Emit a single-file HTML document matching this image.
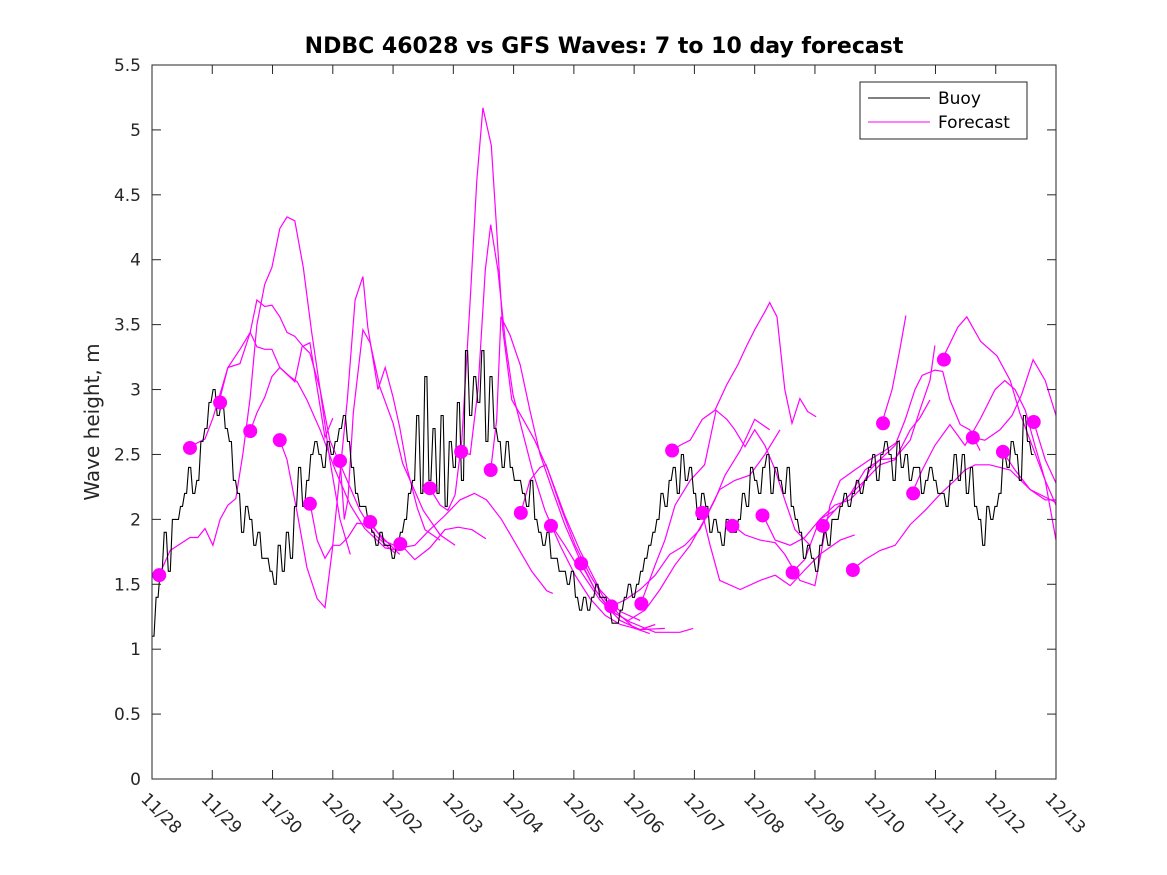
<!DOCTYPE html>
<html><head><meta charset="utf-8"><style>
html,body{margin:0;padding:0;background:#fff;}
svg{display:block;font-family:"DejaVu Sans","Liberation Sans",sans-serif;}
</style></head><body>
<svg id="chart" width="1167" height="875" viewBox="0 0 1167 875" xmlns="http://www.w3.org/2000/svg">
<rect x="0" y="0" width="1167" height="875" fill="#fff"/>
<text x="604" y="53" text-anchor="middle" font-size="22" font-weight="bold" fill="#000">NDBC 46028 vs GFS Waves: 7 to 10 day forecast</text>
<text transform="translate(99,422) rotate(-90)" text-anchor="middle" font-size="20" fill="#262626">Wave height, m</text>
<g id="plot"></g>
<g id="axes"></g>
<g>
<rect x="860" y="82" width="167" height="57" fill="#fff" stroke="#262626" stroke-width="1"/>
<line x1="868" y1="98" x2="930" y2="98" stroke="#000" stroke-width="1"/>
<text x="938" y="104" font-size="17" fill="#000">Buoy</text>
<line x1="868" y1="122" x2="930" y2="122" stroke="#f0f" stroke-width="1"/>
<text x="938" y="128" font-size="17" fill="#000">Forecast</text>
</g>
</svg>
<script>
const xTickLabels = ["11/28","11/29","11/30","12/01","12/02","12/03","12/04","12/05","12/06","12/07","12/08","12/09","12/10","12/11","12/12","12/13"];
const yTickValues = [0,0.5,1,1.5,2,2.5,3,3.5,4,4.5,5,5.5];
const buoyStepDays = 1/14.8;
const buoyValues = [1.1,1.4,1.6,1.9,1.6,2.0,2.0,2.1,2.2,2.4,2.2,2.3,2.6,2.7,2.9,3.0,2.8,2.9,2.7,2.6,2.3,2.2,1.9,2.1,2.0,1.8,1.9,1.7,1.7,1.6,1.5,1.8,1.6,1.9,1.7,2.1,2.4,2.1,2.3,2.5,2.6,2.5,2.4,2.6,2.5,2.6,2.7,2.8,2.6,2.4,2.2,2.1,2.1,2.0,1.9,1.8,1.9,1.8,1.8,1.7,1.8,1.9,2.0,2.2,2.3,2.8,2.2,3.1,2.3,2.7,2.2,2.8,2.1,2.6,2.4,2.9,2.3,3.3,2.8,3.1,2.9,3.3,2.6,3.1,2.7,2.6,2.4,2.6,2.4,2.3,2.3,2.2,2.1,2.3,2.0,1.9,1.8,1.9,1.7,1.7,1.6,1.6,1.5,1.6,1.4,1.3,1.4,1.3,1.4,1.5,1.4,1.4,1.3,1.2,1.2,1.3,1.4,1.5,1.4,1.5,1.6,1.7,1.8,1.9,2.0,2.2,2.1,2.3,2.4,2.2,2.5,2.3,2.4,2.2,2.0,2.2,2.1,1.9,2.0,1.9,1.8,2.0,1.9,1.9,2.0,2.2,2.1,2.4,2.3,2.2,2.4,2.5,2.2,2.4,2.3,2.2,2.4,2.1,2.0,1.9,1.7,1.8,1.7,1.6,1.8,1.9,1.8,2.0,2.0,2.1,2.2,2.1,2.2,2.3,2.2,2.3,2.4,2.5,2.3,2.5,2.6,2.5,2.3,2.6,2.4,2.5,2.3,2.4,2.4,2.2,2.3,2.4,2.3,2.2,2.2,2.1,2.3,2.5,2.3,2.5,2.2,2.4,2.1,2.0,1.8,2.1,2.0,2.1,2.2,2.5,2.4,2.6,2.5,2.3,2.8,2.6,2.5];
const dotDays = [0.12,0.63,1.13,1.63,2.12,2.62,3.12,3.62,4.12,4.61,5.13,5.62,6.12,6.62,7.12,7.62,8.12,8.63,9.13,9.63,10.13,10.63,11.13,11.63,12.13,12.63,13.14,13.62,14.12,14.63];
const dotValues = [1.57,2.55,2.9,2.68,2.61,2.12,2.45,1.98,1.81,2.24,2.52,2.38,2.05,1.95,1.66,1.33,1.35,2.53,2.05,1.95,2.03,1.59,1.95,1.61,2.74,2.2,3.23,2.63,2.52,2.75];
const fc01 = [[0.12,1.57],[0.30,1.76],[0.63,1.86],[0.76,1.86],[0.88,1.93],[1.01,1.80],[1.13,2.00],[1.26,2.11],[1.39,2.16],[1.51,2.51],[1.63,2.94],[1.74,3.50],[1.87,3.81],[1.99,3.94],[2.12,4.24],[2.24,4.33],[2.37,4.30],[2.51,3.94],[2.65,3.44],[2.79,3.00],[2.95,2.46],[3.12,2.00],[3.29,1.73]];
const fc02 = [[0.63,2.56],[0.88,2.62],[1.01,2.78],[1.26,3.17],[1.46,3.20],[1.63,3.44],[1.74,3.69],[1.87,3.64],[1.99,3.65],[2.12,3.56],[2.24,3.44],[2.37,3.41],[2.51,3.33],[2.62,3.28],[2.79,3.00],[2.95,2.61],[3.20,2.34],[3.45,2.07],[3.70,1.88],[4.03,1.74]];
const fc03 = [[1.11,2.90],[1.26,3.17],[1.46,3.31],[1.63,3.44],[1.74,3.33],[1.87,3.31],[1.99,3.31],[2.12,3.17],[2.29,3.10],[2.41,3.06],[2.57,2.92],[2.79,2.69],[3.04,2.38],[3.29,2.11],[3.53,1.93],[3.87,1.78],[4.11,1.76]];
const fc04 = [[1.63,2.68],[1.74,2.82],[1.87,2.94],[1.99,3.10],[2.12,3.17],[2.37,3.06],[2.49,3.33],[2.62,3.36],[2.79,2.87],[2.87,2.63],[3.00,2.78]];
const fc05 = [[2.12,2.61],[2.24,2.46],[2.41,2.05],[2.57,1.63],[2.74,1.39],[2.87,1.32],[2.99,1.76],[3.12,2.36],[3.24,2.92],[3.37,3.69],[3.50,3.87],[3.58,3.48],[3.75,3.00],[3.87,3.17],[4.00,2.94],[4.11,2.71],[4.23,2.40],[4.40,2.09],[4.53,1.92],[4.78,1.84]];
const fc06 = [[2.62,2.13],[2.74,1.84],[2.87,1.70],[3.00,1.80],[3.12,1.80],[3.25,1.86],[3.40,1.97],[3.62,1.96],[3.87,1.84],[4.11,1.73]];
const fc07 = [[3.12,2.46],[3.19,2.00],[3.25,2.15],[3.34,2.82],[3.50,3.46],[3.62,3.36],[3.78,3.02],[4.00,2.74],[4.16,2.43],[4.33,2.25],[4.50,2.07],[4.78,1.88],[5.03,1.80]];
const fc08 = [[3.62,1.98],[3.83,1.84],[4.11,1.78],[4.36,1.80],[4.61,1.92],[4.86,2.03],[5.11,2.15],[5.35,2.20],[5.55,2.15],[5.80,2.00],[6.05,1.80],[6.30,1.60],[6.55,1.45],[6.65,1.43]];
const fc09 = [[4.12,1.81],[4.36,1.69],[4.61,1.78],[4.86,1.92],[5.08,1.94],[5.31,1.92],[5.54,1.85]];
const fc10 = [[4.61,2.24],[4.78,2.11],[4.91,2.07],[5.03,2.19],[5.14,2.61],[5.28,3.69],[5.39,4.61],[5.49,5.17],[5.63,4.88],[5.72,4.23],[5.82,3.46],[5.97,2.92],[6.16,2.77],[6.35,2.61],[6.57,2.38],[6.77,2.11],[7.02,1.80],[7.27,1.57],[7.52,1.38],[7.77,1.26],[8.01,1.16],[8.26,1.12]];
const fc11 = [[5.13,2.52],[5.28,2.50],[5.41,3.00],[5.53,3.92],[5.62,4.27],[5.74,3.92],[5.86,3.38],[5.99,2.96],[6.14,2.69],[6.31,2.38],[6.52,2.07],[6.77,1.80],[7.02,1.57],[7.27,1.39],[7.52,1.26],[7.77,1.19],[8.10,1.15],[8.51,1.16]];
const fc12 = [[5.62,2.38],[5.72,2.77],[5.79,3.56],[5.94,3.42],[6.11,3.19],[6.27,2.84],[6.44,2.50],[6.64,2.23],[6.85,1.96],[7.10,1.69],[7.35,1.46],[7.60,1.30],[7.93,1.21],[8.35,1.13],[8.76,1.13],[8.98,1.16]];
const fc13 = [[6.12,2.05],[6.27,2.30],[6.44,2.40],[6.54,2.42],[6.69,2.23],[6.85,2.03],[7.10,1.76],[7.43,1.46],[7.77,1.29],[8.10,1.22]];
const fc14 = [[6.62,1.96],[6.85,1.80],[7.10,1.61],[7.43,1.38],[7.77,1.22],[8.10,1.15],[8.35,1.19]];
const fc15 = [[7.12,1.66],[7.35,1.46],[7.63,1.29],[7.90,1.22],[8.18,1.30],[8.43,1.46],[8.68,1.65],[8.93,1.80],[9.17,2.00],[9.42,2.23],[9.67,2.30],[9.92,2.34],[10.17,2.50],[10.42,2.69]];
const fc16 = [[7.62,1.33],[7.85,1.38],[8.10,1.46],[8.35,1.57],[8.59,1.73],[8.84,1.80],[9.09,1.92],[9.34,2.15],[9.51,2.34],[9.76,2.53],[10.0,2.77],[10.25,2.69]];
const fc17 = [[8.11,1.35],[8.35,1.65],[8.51,1.84],[8.68,2.11],[8.93,2.30],[9.17,2.42],[9.36,2.84],[9.54,2.77],[9.67,2.69],[9.84,2.56],[10.0,2.69],[10.17,2.57],[10.34,2.38],[10.50,2.15],[10.67,1.92],[10.92,1.80]];
const fc18 = [[8.63,2.53],[8.76,2.57],[8.93,2.61],[9.13,2.77],[9.34,2.84],[9.54,3.04],[9.72,3.19],[9.86,3.33],[10.0,3.46],[10.17,3.60],[10.25,3.67],[10.37,3.56],[10.50,3.00],[10.62,2.74],[10.75,2.93],[10.88,2.83],[11.02,2.79]];
const fc19 = [[9.13,2.05],[9.26,1.80],[9.42,1.53],[9.76,1.46],[10.09,1.53],[10.34,1.57],[10.59,1.49],[10.83,1.61],[11.08,1.73],[11.42,1.84],[11.66,1.88]];
const fc20 = [[9.62,1.96],[9.84,1.88],[10.09,1.84],[10.34,1.82],[10.50,1.73],[10.75,1.53],[11.0,1.49],[11.08,1.69],[11.25,2.11],[11.42,2.30],[11.66,2.38],[11.91,2.46],[12.16,2.53],[12.41,2.61]];
const fc21 = [[10.12,2.05],[10.34,1.84],[10.59,1.80],[10.83,1.86],[11.08,2.00],[11.33,2.07],[11.58,2.19],[11.83,2.30],[12.08,2.42],[12.33,2.46],[12.58,2.69],[12.74,2.78],[12.91,2.92]];
const fc22 = [[10.62,1.59],[10.83,1.69],[11.08,2.00],[11.33,2.11],[11.58,2.15],[11.75,2.23],[11.91,2.38],[12.08,2.46],[12.33,2.47],[12.58,2.61],[12.74,2.84],[12.91,3.07],[12.99,3.34]];
const fc23 = [[11.12,1.96],[11.33,2.07],[11.58,2.19],[11.83,2.38],[12.08,2.46],[12.33,2.57],[12.50,2.77],[12.66,3.00],[12.78,3.11],[12.99,3.15],[13.12,3.14],[13.24,2.92],[13.41,2.73],[13.57,2.69],[13.74,2.53]];
const fc24 = [[11.61,1.61],[11.83,1.69],[12.08,1.76],[12.33,1.80],[12.58,1.96],[12.83,2.07],[13.07,2.19],[13.32,2.30],[13.49,2.38],[13.66,2.42],[13.90,2.42],[14.24,2.38],[14.57,2.23],[15.0,2.13]];
const fc25 = [[12.11,2.74],[12.28,3.00],[12.41,3.31],[12.51,3.57]];
const fc26 = [[12.61,2.20],[12.78,2.38],[12.99,2.57],[13.24,2.73],[13.49,2.57],[13.74,2.77],[13.99,3.00],[14.15,3.07],[14.32,3.00],[14.49,2.84],[14.65,2.57],[14.82,2.30],[15.0,2.11]];
const fc27 = [[13.12,3.24],[13.37,3.48],[13.52,3.56],[13.75,3.37],[14.02,3.26],[14.24,3.07],[14.40,2.82],[14.57,2.61],[14.82,2.30],[15.0,1.84]];
const fc28 = [[13.62,2.63],[13.82,2.61],[14.07,2.69],[14.27,2.80],[14.43,2.96],[14.62,3.23],[14.82,3.07],[15.0,2.80]];
const fc29 = [[14.12,2.52],[14.32,2.38],[14.57,2.23],[14.82,2.15],[15.0,2.15]];
const fc30 = [[14.63,2.75],[14.82,2.46],[15.0,2.28]];
const forecasts = [fc01,fc02,fc03,fc04,fc05,fc06,fc07,fc08,fc09,fc10,fc11,fc12,fc13,fc14,fc15,fc16,fc17,fc18,fc19,fc20,fc21,fc22,fc23,fc24,fc25,fc26,fc27,fc28,fc29,fc30];

const NS = "http://www.w3.org/2000/svg";
const L = 152, R = 1056, T = 65, B = 779;
const xMax = 15, yMax = 5.5;
function xs(d){ return L + d/xMax*(R-L); }
function ys(v){ return B - v/yMax*(B-T); }
function mk(tag, attrs, parent){ const e = document.createElementNS(NS, tag); for (const k in attrs) e.setAttribute(k, attrs[k]); parent.appendChild(e); return e; }
const plot = document.getElementById('plot');
const axes = document.getElementById('axes');

forecasts.forEach(function(s){
  const p = mk('polyline', {points: s.map(q => xs(q[0]).toFixed(1)+','+ys(q[1]).toFixed(1)).join(' '), fill:'none', stroke:'#f0f', 'stroke-width':'1.2'}, plot);
  
  
});
const bpts = [];
buoyValues.forEach(function(v,i){
  const x0 = xs(i*buoyStepDays), x1 = xs((i+0.5)*buoyStepDays);
  bpts.push(x0.toFixed(1)+','+ys(v).toFixed(1));
  bpts.push(x1.toFixed(1)+','+ys(v).toFixed(1));
});
const bl = mk('polyline', {points: bpts.join(' '), fill:'none', stroke:'#000', 'stroke-width':'1.1'}, plot);


dotDays.forEach(function(d,i){
  const c = mk('circle', {cx: xs(d), cy: ys(dotValues[i]), r: 7, fill:'#f0f'}, plot);
  
  
});

const frame = mk('rect', {x:L, y:T, width:R-L, height:B-T, fill:'none', stroke:'#262626', 'stroke-width':'1'}, axes);


yTickValues.forEach(function(v){
  const y = ys(v);
  mk('line', {x1:L, y1:y, x2:L+9, y2:y, stroke:'#262626'}, axes);
  mk('line', {x1:R, y1:y, x2:R-9, y2:y, stroke:'#262626'}, axes);
  const t = mk('text', {x:141, y:y+6, 'text-anchor':'end', 'font-size':'17', fill:'#262626'}, axes);
  t.textContent = String(v);
  
  
});
xTickLabels.forEach(function(lab,i){
  const x = xs(i);
  mk('line', {x1:x, y1:B, x2:x, y2:B-9, stroke:'#262626'}, axes);
  mk('line', {x1:x, y1:T, x2:x, y2:T+9, stroke:'#262626'}, axes);
  const t = mk('text', {transform:'translate('+(x-12)+',800) rotate(45)', 'font-size':'17', fill:'#262626'}, axes);
  t.textContent = lab;
  
  
});
</script>
</body></html>
